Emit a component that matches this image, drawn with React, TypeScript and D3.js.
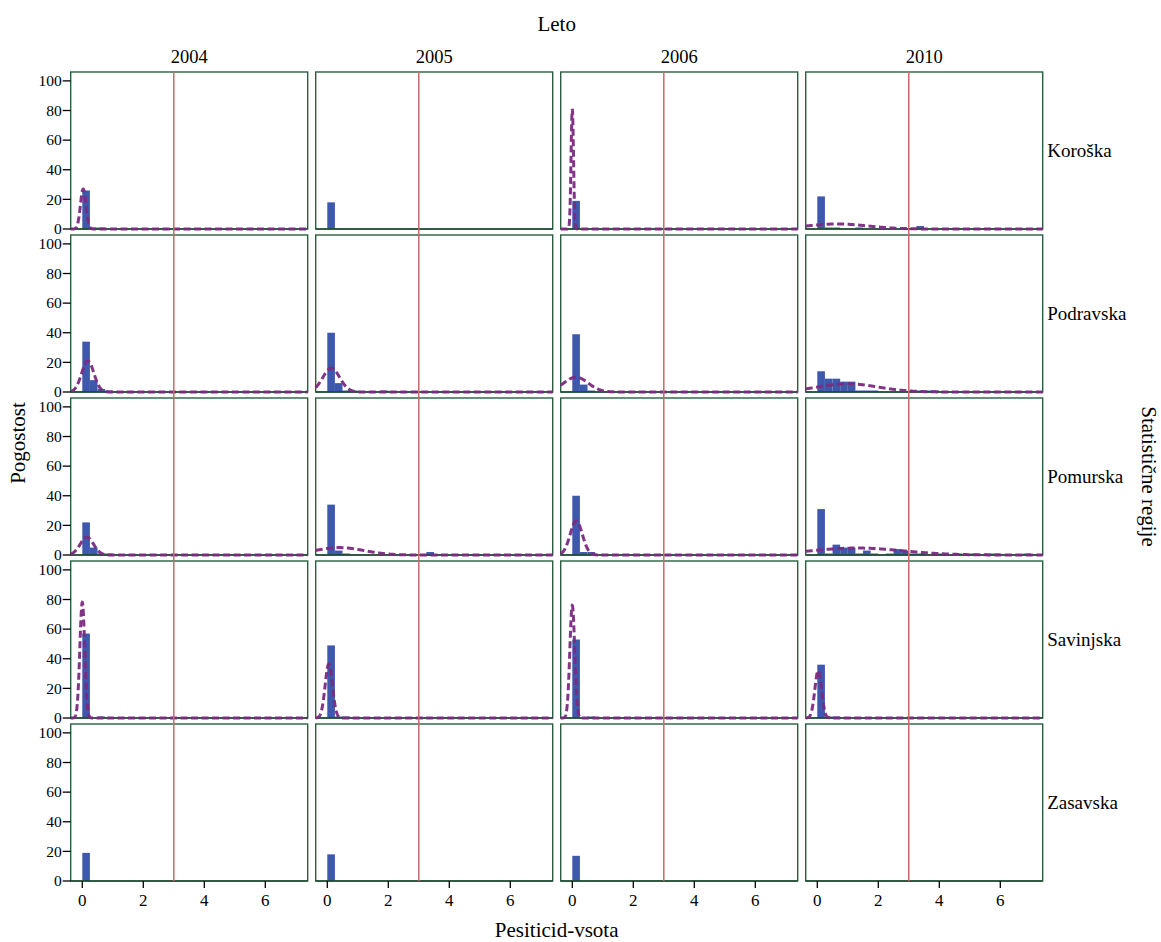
import React from "react";
import * as d3 from "d3";

// Facet labels
const years = ["2004", "2005", "2006", "2010"];
const regions = ["Koroška", "Podravska", "Pomurska", "Savinjska", "Zasavska"];

// Axis ticks
const yTicks = [0, 20, 40, 60, 80, 100];
const xTicks = [0, 2, 4, 6];

// Histogram bins start at 0 and are 0.25 wide
const binWidth = 0.25;
// Reference limit drawn as a vertical line
const limitValue = 3;

// Frequencies per bin, one array per year (2004, 2005, 2006, 2010)
const koroskaCounts = [
  [26, 1, 1],
  [18],
  [19],
  [22, 1, 1, 0, 0, 1, 0, 0, 0, 0, 0, 0, 0, 2],
];
const podravskaCounts = [
  [34, 8, 2, 1],
  [40, 6, 1, 1, 0, 0, 0, 1],
  [39, 5, 1],
  [14, 9, 9, 7, 7, 1, 1, 1, 0, 0, 0, 0, 1, 1, 1, 1],
];
const pomurskaCounts = [
  [22, 5, 1, 1],
  [34, 3, 1, 0, 0, 0, 0, 0, 0, 0, 0, 0, 0, 2],
  [40, 2, 2],
  [31, 1, 7, 5, 5, 1, 3, 1, 0, 1, 4, 3, 1, 1, 0, 1, 1, 0, 1, 0, 1, 0, 1, 1, 0, 0, 0, 1],
];
const savinjskaCounts = [
  [57, 0, 1],
  [49, 1, 1],
  [53, 0, 1],
  [36, 1, 1],
];
const zasavskaCounts = [[19], [18], [17], []];

// Fitted normal curves: [mean, sd, peak frequency], null where none is shown
const koroskaFit = [[0.03, 0.09, 27], null, [0.0, 0.04, 81], [0.65, 1.0, 3.4]];
const podravskaFit = [[0.18, 0.2, 21], [0.13, 0.28, 16], [0.12, 0.4, 10], [1.0, 1.0, 5.5]];
const pomurskaFit = [[0.15, 0.22, 12], [0.4, 0.8, 5], [0.13, 0.2, 23], [1.3, 1.5, 4.7]];
const savinjskaFit = [[0.0, 0.08, 78], [0.05, 0.12, 36.5], [0.0, 0.08, 76], [0.03, 0.11, 32]];
const zasavskaFit = [null, null, null, null];

const countsByRegion = [koroskaCounts, podravskaCounts, pomurskaCounts, savinjskaCounts, zasavskaCounts];
const fitsByRegion = [koroskaFit, podravskaFit, pomurskaFit, savinjskaFit, zasavskaFit];

// Layout
const W = 1161;
const H = 942;
const gridLeft = 70.7;
const colW = 237;
const colGap = 8;
const gridTop = 72;
const rowH = 157;
const rowGap = 6;
const xDomain: [number, number] = [-0.38, 7.39];
const yDomain: [number, number] = [0, 106];

const FONT = "'Liberation Serif', 'Times New Roman', Times, serif";
const BAR = "#3e58ad";
const CURVE = "#7b2a7f";
const LIMIT = "#c8686a";
const FRAME = "#28603f";

const colX = (c: number) => gridLeft + c * (colW + colGap);
const rowY = (r: number) => gridTop + r * (rowH + rowGap);

const xs = d3.scaleLinear().domain(xDomain).range([0, colW]);
const ys = d3.scaleLinear().domain(yDomain).range([rowH, 0]);

const samples = d3.range(0, 1601).map((i) => xDomain[0] + ((xDomain[1] - xDomain[0]) * i) / 1600);
const curveLine = d3
  .line<[number, number]>()
  .x((d) => xs(d[0]))
  .y((d) => ys(d[1]));

function Panel({ r, c }: { r: number; c: number }) {
  const counts = countsByRegion[r][c];
  const fit = fitsByRegion[r][c];
  const x0 = colX(c);
  const y0 = rowY(r);
  let path: string | null = null;
  if (fit) {
    const [m, s, h] = fit;
    const pts: [number, number][] = samples.map((x) => [x, h * Math.exp(-((x - m) * (x - m)) / (2 * s * s))]);
    path = curveLine(pts);
  }
  return (
    <g transform={`translate(${x0},${y0})`}>
      <rect x={0} y={0} width={colW} height={rowH} fill="#ffffff" />
      {counts.map((v, i) =>
        v > 0 ? (
          <rect
            key={i}
            x={xs(i * binWidth)}
            y={ys(v)}
            width={xs((i + 1) * binWidth) - xs(i * binWidth)}
            height={ys(0) - ys(v)}
            fill={BAR}
          />
        ) : null
      )}
      <rect x={0} y={0} width={colW} height={rowH} fill="none" stroke={FRAME} strokeWidth={1.4} />
      <line x1={0} x2={colW} y1={rowH} y2={rowH} stroke="#1f4a34" strokeWidth={1.6} />
      {path && (
        <path d={path} fill="none" stroke={CURVE} strokeWidth={3} strokeDasharray="7,3.5" opacity={0.95} />
      )}
    </g>
  );
}

export default function App() {
  const gridRight = colX(3) + colW;
  const gridBottom = rowY(4) + rowH;
  const gridMidX = (gridLeft + gridRight) / 2;
  const gridMidY = (gridTop + gridBottom) / 2;
  return (
    <svg
      width={W}
      height={H}
      viewBox={`0 0 ${W} ${H}`}
      style={{ position: "absolute", left: 0, top: 0, background: "#ffffff" }}
      fontFamily={FONT}
    >
      <rect x={0} y={0} width={W} height={H} fill="#ffffff" />

      <text x={gridMidX} y={31} fontSize={21} textAnchor="middle" fill="#000">
        Leto
      </text>

      {years.map((yr, c) => (
        <text key={yr} x={colX(c) + colW / 2} y={63} fontSize={18.5} textAnchor="middle" fill="#000">
          {yr}
        </text>
      ))}

      {regions.map((reg, r) =>
        years.map((_, c) => <Panel key={`${r}-${c}`} r={r} c={c} />)
      )}

      {/* limit line runs through every row of a column */}
      {years.map((yr, c) => (
        <line
          key={`lim-${yr}`}
          x1={colX(c) + xs(limitValue)}
          x2={colX(c) + xs(limitValue)}
          y1={gridTop}
          y2={gridBottom}
          stroke={LIMIT}
          strokeWidth={1.5}
        />
      ))}

      {/* y axes */}
      {regions.map((reg, r) => (
        <g key={`yax-${reg}`} transform={`translate(${gridLeft},${rowY(r)})`}>
          {yTicks.map((t) => (
            <g key={t} transform={`translate(0,${ys(t)})`}>
              <line x1={-8} x2={0} y1={0} y2={0} stroke="#000" strokeWidth={1.3} />
              <text x={-9} y={5.2} fontSize={15.5} textAnchor="end" fill="#000">
                {t}
              </text>
            </g>
          ))}
        </g>
      ))}

      {/* x axes */}
      {years.map((yr, c) => (
        <g key={`xax-${yr}`} transform={`translate(${colX(c)},${gridBottom})`}>
          {xTicks.map((t) => (
            <g key={t} transform={`translate(${xs(t)},0)`}>
              <line x1={0} x2={0} y1={0} y2={7} stroke="#000" strokeWidth={1.3} />
              <text x={0} y={25} fontSize={17} textAnchor="middle" fill="#000">
                {t}
              </text>
            </g>
          ))}
        </g>
      ))}

      {regions.map((reg, r) => (
        <text key={`lab-${reg}`} x={gridRight + 4.5} y={rowY(r) + rowH / 2 + 6} fontSize={19} fill="#000">
          {reg}
        </text>
      ))}

      <text
        transform={`translate(1142,${gridMidY}) rotate(90)`}
        fontSize={21}
        textAnchor="middle"
        fill="#000"
      >
        Statistične regije
      </text>

      <text transform={`translate(25,443) rotate(-90)`} fontSize={21} textAnchor="middle" fill="#000">
        Pogostost
      </text>

      <text x={gridMidX} y={937} fontSize={21} textAnchor="middle" fill="#000">
        Pesiticid-vsota
      </text>
    </svg>
  );
}
